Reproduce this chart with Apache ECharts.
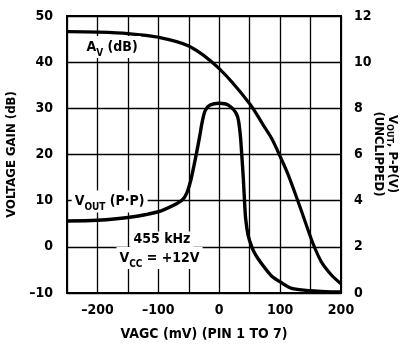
<!DOCTYPE html>
<html><head><meta charset="utf-8">
<script src="https://cdn.jsdelivr.net/npm/echarts@6/dist/echarts.min.js"></script>
<style>html,body{margin:0;padding:0;background:#fff}#c{width:404px;height:352px}</style>
</head><body><div id="c"></div>
<script>
// X values (mV) and series data
const avMv = [-250, -200, -150, -100, -50, 0, 50, 75, 86, 100, 113, 129, 141, 155, 168, 185, 200];
const avDb = [46.6, 46.5, 46.2, 45.4, 43.5, 38.6, 31.0, 25.8, 23.5, 19.6, 15.7, 10.0, 5.5, 0.4, -3.3, -6.2, -8.0];
const voutMv = [-250, -200, -150, -100, -75, -60, -53, -47, -42, -37, -32, -28, -23, -15, 0, 15, 29, 34, 37, 39.5, 41.5, 43.5, 47.5, 53.5, 60, 75, 86, 100, 119, 150, 175, 200];
const voutV = [3.12, 3.15, 3.27, 3.52, 3.8, 4.05, 4.35, 4.85, 5.45, 6.1, 6.8, 7.4, 7.9, 8.14, 8.22, 8.14, 7.72, 7.0, 6.0, 5.0, 4.0, 3.2, 2.5, 2.0, 1.64, 1.08, 0.74, 0.48, 0.2, 0.1, 0.06, 0.05];
const xTickLabels = { '-200': '\u2013200', '-100': '\u2013100', '0': '0', '100': '100', '200': '200' };
const leftTicks = [-10, 0, 10, 20, 30, 40, 50];
const rightTicks = [0, 2, 4, 6, 8, 10, 12];
const rightAxisName = '{n|V}{s|OUT}{n|, P-P(V)}\n{n|(UNCLIPPED)}';

const FF = '"Liberation Sans Narrow","DejaVu Sans Condensed","Roboto Condensed",sans-serif';
const chart = echarts.init(document.getElementById('c'), null, { renderer: 'canvas' });
const txt = { fontFamily: FF, fontWeight: 'bold', color: '#000' };
const rich = {
  n: { fontFamily: FF, fontWeight: 'bold', fontSize: 14, color: '#000', lineHeight: 16, verticalAlign: 'middle' },
  s: { fontFamily: FF, fontWeight: 'bold', fontSize: 10, color: '#000', lineHeight: 22, verticalAlign: 'bottom' }
};
const richName = {
  n: { fontFamily: FF, fontWeight: 'bold', fontSize: 13, color: '#000', lineHeight: 14, verticalAlign: 'middle' },
  s: { fontFamily: FF, fontWeight: 'bold', fontSize: 9, color: '#000', lineHeight: 14, verticalAlign: 'bottom' }
};
chart.setOption({
  animation: false,
  grid: { left: 67, right: 63, top: 16, bottom: 59, containLabel: false, outerBoundsMode: 'none', show: true, borderColor: '#000', borderWidth: 2, backgroundColor: 'transparent' },
  xAxis: {
    type: 'value', min: -250, max: 200, interval: 50,
    name: 'VAGC (mV) (PIN 1 TO 7)', nameLocation: 'middle', nameGap: 34,
    nameTextStyle: Object.assign({ fontSize: 14 }, txt),
    axisLine: { show: false }, axisTick: { show: false },
    axisLabel: Object.assign({ fontSize: 14, margin: 10, formatter: v => xTickLabels[String(v)] || '' }, txt),
    splitLine: { show: true, lineStyle: { color: '#000', width: 1.3 } }
  },
  yAxis: [
    {
      type: 'value', min: -10, max: 50, interval: 10,
      name: 'VOLTAGE GAIN (dB)', nameLocation: 'middle', nameGap: 48,
      nameTextStyle: Object.assign({ fontSize: 13 }, txt),
      axisLine: { show: false }, axisTick: { show: false },
      axisLabel: Object.assign({ fontSize: 14, margin: 14, formatter: v => leftTicks.includes(v) ? (v < 0 ? '\u2013' + Math.abs(v) : String(v)) : '' }, txt),
      splitLine: { show: true, lineStyle: { color: '#000', width: 1.3 } }
    },
    {
      type: 'value', min: 0, max: 12, interval: 2, position: 'right',
      axisLine: { show: false }, axisTick: { show: false },
      axisLabel: Object.assign({ fontSize: 14, margin: 13, formatter: v => rightTicks.includes(v) ? String(v) : '' }, txt),
      splitLine: { show: false }
    }
  ],
  series: [
    { type: 'line', yAxisIndex: 0, data: avMv.map((x, i) => [x, avDb[i]]), smooth: 0.3, symbol: 'none', lineStyle: { color: '#000', width: 3.2 }, z: 5 },
    { type: 'line', yAxisIndex: 1, data: voutMv.map((x, i) => [x, voutV[i]]), smooth: 0.3, symbol: 'none', lineStyle: { color: '#000', width: 3.4 }, z: 5 }
  ]
});

function px(x, y) { return chart.convertToPixel({ xAxisIndex: 0, yAxisIndex: 0 }, [x, y]); }
const labels = [
  { at: [-176, 43.3], text: '{n|A}{s|V}{n| (dB)}' },
  { at: [-180, 9.8], text: '{n|V}{s|OUT}{n| (P\u00b7P)}' },
  { at: [-94, 1.6], text: '{n|455 kHz}' },
  { at: [-98, -2.4], text: '{n|V}{s|CC}{n| = +12V}' }
];
const g = labels.map(l => {
  const p = px(l.at[0], l.at[1]);
  return {
    type: 'text', x: p[0], y: p[1], z: 10,
    style: { text: l.text, rich: rich, align: 'center', verticalAlign: 'middle', backgroundColor: '#fff', padding: [0, 3, 0, 3] }
  };
});
g.push({
  type: 'text', x: 385, y: 154, rotation: -Math.PI / 2, z: 10,
  style: { text: rightAxisName, rich: richName, align: 'center', verticalAlign: 'middle' }
});
chart.setOption({ graphic: g });
</script></body></html>
